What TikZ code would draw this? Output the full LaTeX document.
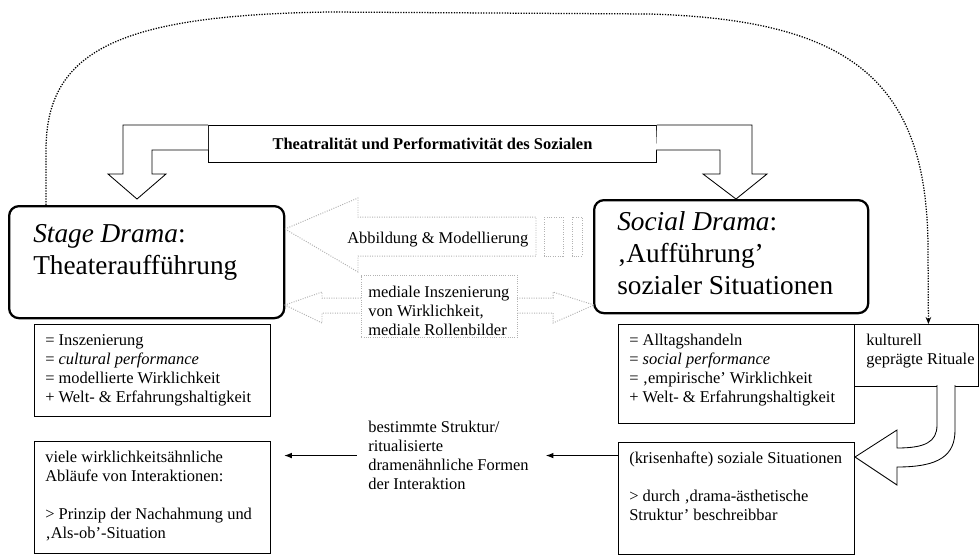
\documentclass[tikz,border=0pt]{standalone}
\usepackage{fontspec}
\setmainfont{Liberation Serif}
\usetikzlibrary{arrows.meta}
\usetikzlibrary{positioning}
\tikzset{
    dramabox/.style={draw,line width=1.6pt,rounded corners=7pt,anchor=north west,inner sep=0pt},
    infobox/.style={draw,line width=0.6pt,anchor=north west,inner sep=0pt},
    bodytext/.style={font=\fontsize{11.7}{13.5}\selectfont,align=left,inner sep=0pt},
    bigtext/.style={font=\fontsize{19.4}{22.6}\selectfont,align=left,inner sep=0pt},
    greyline/.style={draw=gray!60,densely dotted,line width=0.7pt},
    blockarrow/.style={draw,line width=0.6pt,fill=white},
    feedback/.style={densely dotted,line width=0.9pt,-{Stealth[length=5pt,width=4pt]}},
    flow/.style={line width=0.7pt,-{Latex[length=5.5pt,width=4pt]}},
}

\begin{document}
\begin{tikzpicture}[x=0.025cm,y=-0.025cm]
\useasboundingbox (0,0) rectangle (979,555);
% the two dramas
\node[dramabox,minimum width=6.875cm,minimum height=2.8cm] (stage) at (8,205) {};
\node[bigtext,below right=0.475cm and 0.625cm of stage.north west] (stagetxt) {\textit{Stage Drama}:\\Theateraufführung};
\node[dramabox,minimum width=6.85cm,minimum height=2.825cm] (social) at (593,199) {};
\node[bigtext,below right=0.31cm and 0.6cm of social.north west] (socialtxt) {\textit{Social Drama}:\\‚Aufführung’\\sozialer Situationen};
% title bar and its two block arrows
\node[infobox,bodytext,font=\fontsize{11.7}{13.5}\selectfont\bfseries,minimum width=11.2cm,minimum height=0.925cm] (title) at (208,125) {Theatralität und Performativität des Sozialen};
\draw[blockarrow] (title.north west) -- (123,125) -- (123,174) -- (108,174) -- (137,199) -- (166,174) -- (152,174) -- (152,150) -- (208,150);
\draw[blockarrow] (title.north east) -- (752,125) -- (752,174) -- (767,174) -- (736,199) -- (703,174) -- (720,174) -- (720,150) -- (656,150);
% boxes below
\node[infobox,minimum width=5.9cm,minimum height=2.3cm] (infoL1) at (34,324) {};
\node[bodytext,below right=0.25cm and 0.275cm of infoL1.north west] (infoL1txt) {= Inszenierung\\= \textit{cultural performance}\\= modellierte Wirklichkeit\\+ Welt- \& Erfahrungshaltigkeit};
\node[infobox,minimum width=5.9cm,minimum height=2.8cm] (infoL2) at (34,441) {};
\node[bodytext,below right=0.25cm and 0.275cm of infoL2.north west] (infoL2txt) {viele wirklichkeitsähnliche\\Abläufe von Interaktionen:\\[13.5pt]> Prinzip der Nachahmung und\\‚Als-ob’-Situation};
\node[infobox,minimum width=5.9cm,minimum height=2.475cm] (infoR1) at (618,324) {};
\node[bodytext,below right=0.25cm and 0.275cm of infoR1.north west] (infoR1txt) {= Alltagshandeln\\= \textit{social performance}\\= ‚empirische’ Wirklichkeit\\+ Welt- \& Erfahrungshaltigkeit};
\node[infobox,minimum width=3.1cm,minimum height=1.55cm] (ritual) at (854,324) {};
\node[bodytext,below right=0.24cm and 0.3cm of ritual.north west] (ritualtxt) {kulturell\\geprägte Rituale};
\node[infobox,minimum width=5.9cm,minimum height=2.8cm] (infoR2) at (618,442) {};
\node[bodytext,below right=0.23cm and 0.275cm of infoR2.north west] (infoR2txt) {(krisenhafte) soziale Situationen\\[13.5pt]> durch ‚drama-ästhetische\\Struktur’ beschreibbar};
% middle text and arrows
\node[bodytext,anchor=north west] (struct) at (368,421) {bestimmte Struktur/\\ritualisierte\\dramenähnliche Formen\\der Interaktion};
\draw[flow,shorten >=0.42cm] (struct.east -| infoR2.west) -- (struct.east);
\draw[flow,shorten <=0.28cm,shorten >=0.33cm] (struct.west) -- (struct.west -| infoL2.east);
% grey dotted arrows
\draw[greyline] (285,229) -- (358,198) -- (358,217) -- (536,217) -- (536,256) -- (358,256) -- (358,272) -- cycle;
\draw[greyline] (544,217) rectangle (563,256) (572,217) rectangle (582,256);
\node[bodytext,anchor=base west] (abbtxt) at (347,243) {Abbildung \& Modellierung};
\node[infobox,greyline,minimum width=3.9cm,minimum height=1.55cm] (mediale) at (361,275) {};
\node[bodytext,below right=0.275cm and 0.175cm of mediale.north west] (medialetxt) {mediale Inszenierung\\von Wirklichkeit,\\mediale Rollenbilder};
\draw[greyline] (361,298) -- (322,298) -- (322,292) -- (285,305) -- (322,323) -- (322,313) -- (361,313);
\draw[greyline] (517,298) -- (553,298) -- (553,292) -- (594,305) -- (553,323) -- (553,313) -- (517,313);
% curved block arrow
\draw[blockarrow] (937,385) -- (937,425) .. controls (937,442) and (925,448) .. (897,448) -- (897,430) -- (855,457) -- (897,485) -- (897,467) .. controls (940,467) and (955,455) .. (955,430) -- (955,385);
% long dotted feedback line
\draw[feedback] ([xshift=0.95cm]stage.north west) -- (46,150) .. controls (46,50) and (120,15) .. (330,12) -- (650,14) .. controls (850,20) and (928,80) .. (928,250) -- ([xshift=0.3cm]ritual.north);
\end{tikzpicture}
\end{document}
